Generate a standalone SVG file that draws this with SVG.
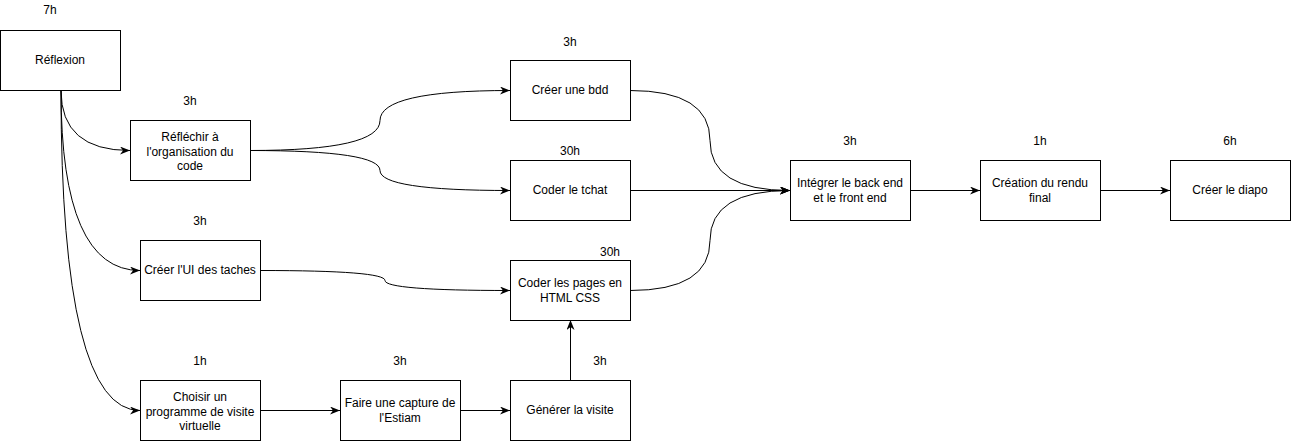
<svg xmlns="http://www.w3.org/2000/svg" width="1291" height="442" viewBox="0 0 1291 442">
  <style>
    .box rect { fill: #ffffff; stroke: #000000; stroke-width: 1; }
    text { font-family: "Liberation Sans", Arial, Helvetica, sans-serif; font-size: 12px; fill: #000000; text-anchor: middle; }
    .edge { fill: none; stroke: #000000; stroke-width: 1; marker-end: url(#arrow); }
  </style>
  <defs>
    <marker id="arrow" viewBox="0 0 10 8" refX="10" refY="4" markerWidth="10" markerHeight="8" markerUnits="userSpaceOnUse" orient="auto">
      <path d="M0 0 L10 4 L0 8 L3 4 Z" fill="#000000"/>
    </marker>
  </defs>
  <rect width="1291" height="442" fill="#ffffff"/>

  <!-- connectors -->
  <g id="connectors">
    <path class="edge" d="M61 90.5 Q61 150.5 130 150.5"/>
    <path class="edge" d="M61 90.5 Q61 270.5 140 270.5"/>
    <path class="edge" d="M61 90.5 Q61 410.5 140 410.5"/>
    <path class="edge" d="M250 150.5 Q380 150.5 380 120.5 Q380 90.5 510 90.5"/>
    <path class="edge" d="M250 150.5 Q380 150.5 380 170.5 Q380 190.5 510 190.5"/>
    <path class="edge" d="M260 270.5 Q385 270.5 385 280.5 Q385 290.5 510 290.5"/>
    <path class="edge" d="M260 410.5 L340 410.5"/>
    <path class="edge" d="M460 410.5 L510 410.5"/>
    <path class="edge" d="M570.5 380 L570.5 320"/>
    <path class="edge" d="M630 90.5 Q710 90.5 710 140.5 Q710 190.5 790 190.5"/>
    <path class="edge" d="M630 190.5 L790 190.5"/>
    <path class="edge" d="M630 290.5 Q710 290.5 710 240.5 Q710 190.5 790 190.5"/>
    <path class="edge" d="M910 190.5 L980 190.5"/>
    <path class="edge" d="M1100 190.5 L1170 190.5"/>
  </g>

  <!-- nodes -->
  <g id="reflexion" class="box">
    <text x="50" y="14">7h</text>
    <rect x="0.5" y="30.5" width="120" height="60"/>
    <text x="60" y="64">Réflexion</text>
  </g>
  <g id="organisation" class="box">
    <text x="190" y="105">3h</text>
    <rect x="130.5" y="120.5" width="120" height="60"/>
    <text x="190" y="141">Réfléchir à</text>
    <text x="190" y="155.5">l'organisation du</text>
    <text x="190" y="170">code</text>
  </g>
  <g id="ui-taches" class="box">
    <text x="200" y="225">3h</text>
    <rect x="140.5" y="240.5" width="120" height="60"/>
    <text x="200" y="274">Créer l'UI des taches</text>
  </g>
  <g id="choisir" class="box">
    <text x="200" y="365">1h</text>
    <rect x="140.5" y="380.5" width="120" height="60"/>
    <text x="200" y="401">Choisir un</text>
    <text x="200" y="415.5">programme de visite</text>
    <text x="200" y="430">virtuelle</text>
  </g>
  <g id="capture" class="box">
    <text x="400" y="365">3h</text>
    <rect x="340.5" y="380.5" width="120" height="60"/>
    <text x="400" y="407">Faire une capture de</text>
    <text x="400" y="422">l'Estiam</text>
  </g>
  <g id="generer" class="box">
    <text x="600" y="365">3h</text>
    <rect x="510.5" y="380.5" width="120" height="60"/>
    <text x="570" y="414">Générer la visite</text>
  </g>
  <g id="pages" class="box">
    <text x="610" y="256">30h</text>
    <rect x="510.5" y="260.5" width="120" height="60"/>
    <text x="570" y="287">Coder les pages en</text>
    <text x="570" y="302">HTML CSS</text>
  </g>
  <g id="bdd" class="box">
    <text x="570" y="46">3h</text>
    <rect x="510.5" y="60.5" width="120" height="60"/>
    <text x="570" y="94">Créer une bdd</text>
  </g>
  <g id="tchat" class="box">
    <text x="570" y="155">30h</text>
    <rect x="510.5" y="160.5" width="120" height="60"/>
    <text x="570" y="194">Coder le tchat</text>
  </g>
  <g id="integrer" class="box">
    <text x="850" y="145">3h</text>
    <rect x="790.5" y="160.5" width="120" height="60"/>
    <text x="850" y="187">Intégrer le back end</text>
    <text x="850" y="202">et le front end</text>
  </g>
  <g id="rendu" class="box">
    <text x="1040" y="145">1h</text>
    <rect x="980.5" y="160.5" width="120" height="60"/>
    <text x="1040" y="187">Création du rendu</text>
    <text x="1040" y="202">final</text>
  </g>
  <g id="diapo" class="box">
    <text x="1230" y="145">6h</text>
    <rect x="1170.5" y="160.5" width="120" height="60"/>
    <text x="1230" y="194">Créer le diapo</text>
  </g>
</svg>
